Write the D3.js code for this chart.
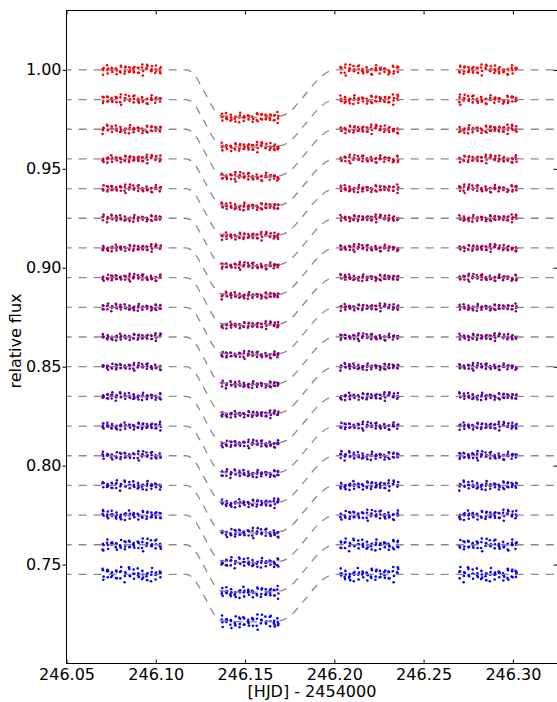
<!DOCTYPE html>
<html>
<head>
<meta charset="utf-8">
<script src="https://cdn.jsdelivr.net/npm/d3@7"></script>
<style>
  body { margin: 0; background: #fff; }
  text { font-family: "DejaVu Sans", sans-serif; }
</style>
</head>
<body>
<div id="chart"></div>
<script>
// baseline flux of each light curve, top (red) to bottom (blue)
const baselines = [1.000, 0.985, 0.970, 0.955, 0.940, 0.925, 0.910, 0.895, 0.880,
                   0.865, 0.850, 0.835, 0.820, 0.805, 0.790, 0.775, 0.760, 0.745];
const depths = [0.024, 0.024, 0.024, 0.024, 0.024, 0.024, 0.024, 0.024, 0.024,
                0.024, 0.024, 0.024, 0.024, 0.024, 0.024, 0.024, 0.024, 0.024];
// scatter (1 sigma) of each light curve
const scatter = [0.0013, 0.0012, 0.0011, 0.0010, 0.0010, 0.0009, 0.0009, 0.0009, 0.0009,
                 0.0009, 0.0009, 0.0010, 0.0010, 0.0011, 0.0012, 0.0013, 0.0015, 0.0018];

// exposure group times, one list per observing block
const blockTimes = [
  [246.0705, 246.0730, 246.0754, 246.0779, 246.0803, 246.0828, 246.0853, 246.0877, 246.0902, 246.0926, 246.0951, 246.0976, 246.1000, 246.1025],
  [246.1372, 246.1396, 246.1421, 246.1445, 246.1470, 246.1494, 246.1519, 246.1543, 246.1568, 246.1592, 246.1617, 246.1641, 246.1664, 246.1684],
  [246.2037, 246.2061, 246.2086, 246.2110, 246.2135, 246.2159, 246.2184, 246.2208, 246.2233, 246.2257, 246.2282, 246.2306, 246.2331, 246.2355],
  [246.2703, 246.2727, 246.2752, 246.2776, 246.2801, 246.2825, 246.2850, 246.2874, 246.2899, 246.2923, 246.2948, 246.2972, 246.2996, 246.3018]
];
const blockInTransit = [0, 1, 0, 0];
const subOffsets = [-0.0003, -0.0001, 0.0001, 0.0003];
// normalised residuals
const residuals = [0.3, -1.1, 0.8, -0.2, 1.6, -0.7, 0.1, -1.9, 0.9, 0.4, -0.5, 1.2, -1.3, 0.6, -0.1,
  2.1, -0.8, 0.2, -1.5, 1.0, -0.3, 0.7, -2.2, 0.5, 1.4, -0.6, 0.0, -1.0, 1.8, -0.4, 0.3, -1.2,
  0.9, -0.9, 1.1, -0.1, 0.6, -1.7, 0.2, 1.3, -0.5, 0.8, -1.4, 0.4, -0.2, 1.7, -0.8, 0.1, -1.1,
  0.5, 2.0, -0.6, -0.3, 1.0, -1.6, 0.7, 0.0, 1.5, -1.0, 0.3, -0.7];

// transit model shape (fraction of full depth)
const modelTimes = [246.040, 246.117, 246.121, 246.127, 246.133, 246.137, 246.153, 246.170,
                    246.175, 246.183, 246.191, 246.197, 246.201, 246.340];
const modelShape = [0, 0, 0.08, 0.45, 0.85, 0.97, 1.0, 0.97, 0.88, 0.55, 0.2, 0.03, 0, 0];

const xTicks = [246.05, 246.10, 246.15, 246.20, 246.25, 246.30];
const yTicks = [0.75, 0.80, 0.85, 0.90, 0.95, 1.00];

const W = 557, H = 702;
const margin = {top: 10.5, right: -0.5, bottom: 38.5, left: 66.5};
const w = W - margin.left - margin.right, h = H - margin.top - margin.bottom;
const fontSize = 16;

const svg = d3.select("#chart").append("svg").attr("width", W).attr("height", H);
const g = svg.append("g").attr("transform", `translate(${margin.left},${margin.top})`);

const x = d3.scaleLinear().domain([246.05, 246.325]).range([0, w]);
const y = d3.scaleLinear().domain([0.70, 1.03]).range([h, 0]);

const color = i => d3.interpolateRgb("#ff0000", "#0000ff")(i / (baselines.length - 1));

svg.append("defs").append("clipPath").attr("id", "clip")
  .append("rect").attr("width", w).attr("height", h);

const plot = g.append("g").attr("clip-path", "url(#clip)");

// data points
const points = [];
baselines.forEach((b, k) => {
  blockTimes.forEach((times, c) => {
    let j = 0;
    times.forEach(t => {
      subOffsets.forEach(o => {
        const r = residuals[(j * 7 + k * 11 + c * 17) % residuals.length];
        points.push({t: t + o, f: b - depths[k] * blockInTransit[c] + r * scatter[k], k});
        j++;
      });
    });
  });
});

plot.selectAll(".pt").data(points).enter().append("circle")
  .attr("class", "pt")
  .attr("cx", d => x(d.t))
  .attr("cy", d => y(d.f))
  .attr("r", 1.3)
  .attr("fill", d => color(d.k));

// model curves
const model = modelTimes.map((t, i) => ({t, s: modelShape[i]}));
plot.selectAll(".model").data(baselines).enter().append("path")
  .attr("class", "model")
  .attr("fill", "none")
  .attr("stroke", "#8a8a8a")
  .attr("stroke-width", 1.3)
  .attr("stroke-dasharray", "8,7")
  .attr("d", (b, k) => d3.line()
    .x(d => x(d.t))
    .y(d => y(b - depths[k] * d.s))
    .curve(d3.curveMonotoneX)(model));

// axes
const xAxis = g.append("g").attr("transform", `translate(0,${h})`)
  .call(d3.axisBottom(x).tickValues(xTicks).tickFormat(d3.format(".2f")).tickSizeInner(-4).tickSizeOuter(0).tickPadding(5));
const yAxis = g.append("g")
  .call(d3.axisLeft(y).tickValues(yTicks).tickFormat(d3.format(".2f")).tickSizeInner(4).tickSizeOuter(0).tickPadding(1));
const yAxisR = g.append("g").attr("transform", `translate(${w},0)`)
  .call(d3.axisRight(y).tickValues(yTicks).tickFormat("").tickSizeInner(-4).tickSizeOuter(0));
const xAxisT = g.append("g")
  .call(d3.axisTop(x).tickValues(xTicks).tickFormat("").tickSizeInner(-4).tickSizeOuter(0));

[xAxis, yAxis, yAxisR, xAxisT].forEach(a => {
  a.select(".domain").remove();
  a.selectAll("line").attr("stroke", "#000").attr("stroke-width", 1);
  a.selectAll("text").attr("font-size", fontSize).attr("fill", "#000")
    .attr("font-family", "DejaVu Sans, sans-serif");
});

g.append("rect").attr("width", w).attr("height", h)
  .attr("fill", "none").attr("stroke", "#000").attr("stroke-width", 1);

svg.append("text")
  .attr("x", margin.left + x(246.1875)).attr("y", 697)
  .attr("text-anchor", "middle").attr("font-size", fontSize)
  .text("[HJD] - 2454000");

svg.append("text")
  .attr("transform", `translate(21,${margin.top + h / 2 + 4}) rotate(-90)`)
  .attr("text-anchor", "middle").attr("font-size", fontSize)
  .text("relative flux");
</script>
</body>
</html>
